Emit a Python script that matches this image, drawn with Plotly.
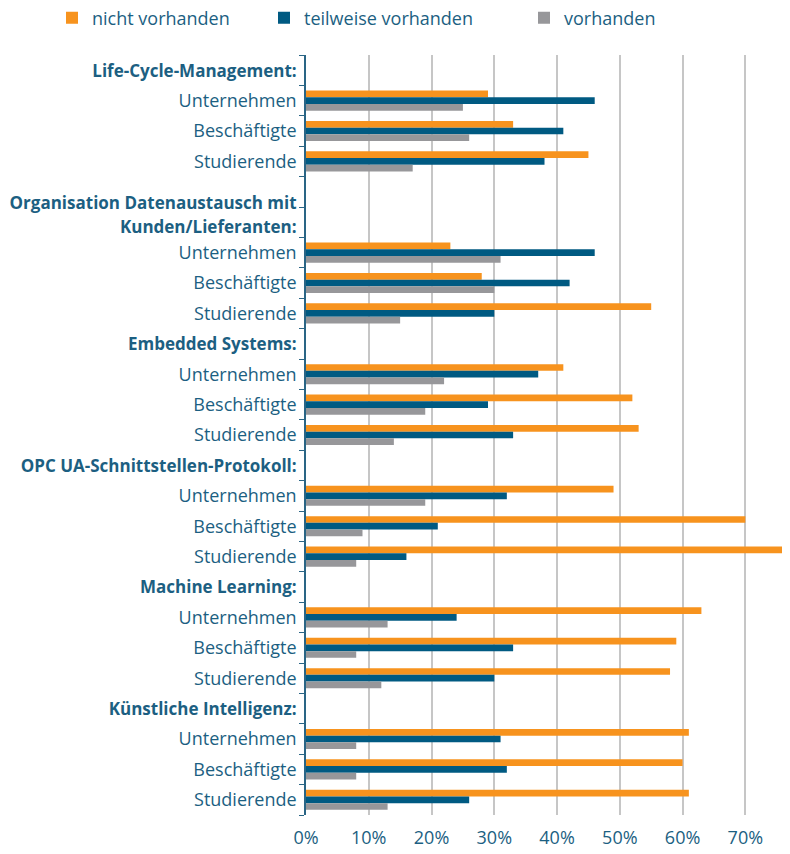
import plotly.graph_objects as go

# survey groups and respondent types (top to bottom)
GROUPS = [
    "Life-Cycle-Management:",
    "Organisation Datenaustausch mit<br>Kunden/Lieferanten:",
    "Embedded Systems:",
    "OPC UA-Schnittstellen-Protokoll:",
    "Machine Learning:",
    "Künstliche Intelligenz:",
]
RESPONDENTS = ["Unternehmen", "Beschäftigte", "Studierende"]

# shares in %, three respondent rows per group
NICHT = [29, 33, 45, 23, 28, 55, 41, 52, 53, 49, 70, 76, 63, 59, 58, 61, 60, 61]
TEILWEISE = [46, 41, 38, 46, 42, 30, 37, 29, 33, 32, 21, 16, 24, 33, 30, 31, 32, 26]
VORHANDEN = [25, 26, 17, 31, 30, 15, 22, 19, 14, 19, 9, 8, 13, 8, 12, 8, 8, 13]

SERIES = [
    ("nicht vorhanden", NICHT, "#f7931e"),
    ("teilweise vorhanden", TEILWEISE, "#005a82"),
    ("vorhanden", VORHANDEN, "#97979a"),
]

TEXT = "#1c5f82"
FONT = "Open Sans"

# the page body adds an 8px margin, so the figure is 8px smaller than the window
W, H = 782, 846

# slot layout: the long second header takes two rows
header_slots = [1, 2, 1, 1, 1, 1]
bar_pos, tickvals, ticktext = [], [], []
slot = 0
for g, name in enumerate(GROUPS):
    n = header_slots[g]
    tickvals.append(slot + (n - 1) * 0.75)
    ticktext.append(f"<span style='font-size:17px'><b>{name}</b></span>")
    slot += n
    for r in RESPONDENTS:
        bar_pos.append(slot)
        tickvals.append(slot)
        ticktext.append(r)
        slot += 1
n_slots = slot

fig = go.Figure()
legend_ids = ["legend", "legend2", "legend3"]
for (name, vals, color), lg in zip(SERIES, legend_ids):
    fig.add_trace(go.Bar(
        y=bar_pos, x=[v / 100 for v in vals], name=name,
        orientation="h", marker=dict(color=color, line=dict(width=0)),
        legend=lg, showlegend=True,
    ))

# one legend per series so the entries sit where the original has them
legend_x = [44, 256, 516]
legend_style = dict(orientation="h", xref="container", yref="container",
                    y=1 - 10 / H, yanchor="middle", xanchor="left",
                    font=dict(size=18, color=TEXT), bgcolor="rgba(0,0,0,0)",
                    itemwidth=30)

fig.update_layout(
    width=W, height=H,
    margin=dict(l=298, r=7, t=47, b=39, autoexpand=False),
    plot_bgcolor="white", paper_bgcolor="white",
    barmode="group", bargap=0.34, bargroupgap=0,
    font=dict(family=FONT, size=18, color=TEXT),
    showlegend=True,
    legend=dict(x=legend_x[0] / W, **legend_style),
    legend2=dict(x=legend_x[1] / W, **legend_style),
    legend3=dict(x=legend_x[2] / W, **legend_style),
)
fig.update_xaxes(
    range=[0, 0.76], tickformat=".0%", dtick=0.1, tick0=0,
    showgrid=True, gridcolor="#c6c6c6", gridwidth=1.5,
    zeroline=False, showline=False, ticks="",
    ticklabelstandoff=10, tickfont=dict(size=18, color=TEXT),
)
fig.update_yaxes(
    range=[n_slots - 0.5, -0.5],
    tickmode="array", tickvals=tickvals, ticktext=ticktext,
    ticks="", showgrid=False, zeroline=False,
    showline=True, linecolor="#2a6585", linewidth=1.5,
    minor=dict(tickmode="array", tickvals=[i - 0.5 for i in range(n_slots + 1)],
               ticks="outside", ticklen=5, tickcolor="#2a6585", showgrid=False),
    tickfont=dict(size=18, color=TEXT),
    ticklabelstandoff=4,
)

fig.write_html("out.html")
